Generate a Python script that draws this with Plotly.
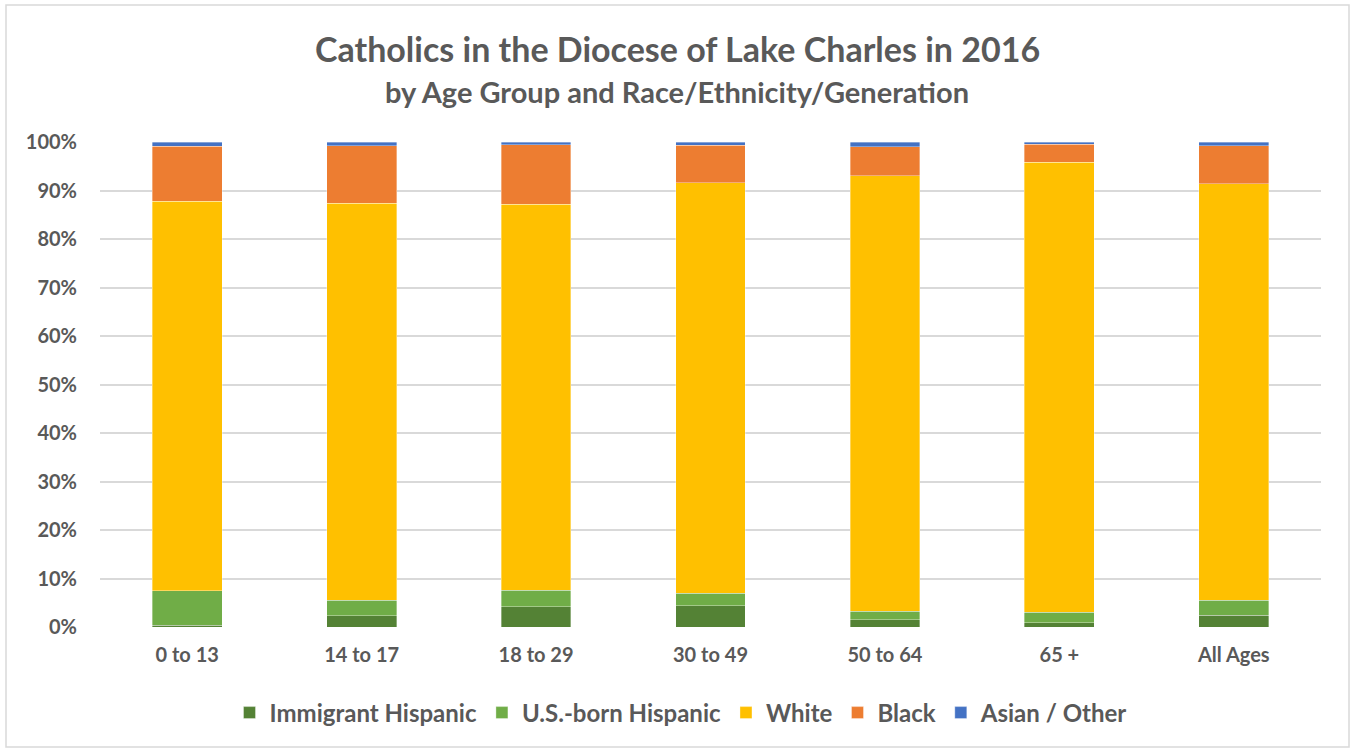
import plotly.graph_objects as go

categories = ["0 to 13", "14 to 17", "18 to 29", "30 to 49", "50 to 64", "65 +", "All Ages"]
immigrant_hispanic = [0.4, 2.3, 4.2, 4.4, 1.5, 0.9, 2.4]
us_born_hispanic = [7.1, 3.2, 3.4, 2.6, 1.7, 2.1, 3.1]
white = [80.3, 81.9, 79.6, 84.6, 89.8, 92.8, 85.9]
black = [11.3, 11.8, 12.2, 7.7, 6.0, 3.7, 7.8]
asian_other = [0.9, 0.8, 0.6, 0.7, 1.0, 0.5, 0.8]

series = [
    ("Immigrant Hispanic", immigrant_hispanic, "#548235"),
    ("U.S.-born Hispanic", us_born_hispanic, "#70AD47"),
    ("White", white, "#FFC000"),
    ("Black", black, "#ED7D31"),
    ("Asian / Other", asian_other, "#4472C4"),
]

FONT = "Lato"
GRAY = "#595959"

fig = go.Figure()
for name, vals, color in series:
    fig.add_trace(go.Bar(
        x=categories, y=[v / 100 for v in vals], name=name,
        marker=dict(color=color, line=dict(color="rgba(255,255,255,0.5)", width=0.7)),
    ))

W, H = 1351, 749
L, R, T, B = 100, 30, 142, 122
pw, ph = W - L - R, H - T - B

def px(x):
    return (x - L) / pw

def py(y):
    return (H - B - y) / ph

fig.update_layout(
    width=W, height=H,
    barmode="stack", bargap=0.6,
    paper_bgcolor="white", plot_bgcolor="white",
    margin=dict(l=L, r=R, t=T, b=B, pad=0),
    font=dict(family=FONT, color=GRAY),
    showlegend=True,
    legend=dict(orientation="h", x=px(681), xanchor="center", y=py(713), yanchor="middle",
                font=dict(family=FONT, size=24, color=GRAY, weight="bold"),
                traceorder="normal", itemwidth=30),
    xaxis=dict(showgrid=False, showline=False, ticks="", ticklabelstandoff=14,
               tickfont=dict(family=FONT, size=20, color=GRAY, weight="bold")),
    yaxis=dict(range=[0, 1], tickvals=[i / 10 for i in range(11)], tickformat=".0%",
               showgrid=True, gridcolor="#D9D9D9", gridwidth=1.5, zeroline=False,
               showline=False, ticks="", ticklabelstandoff=22,
               tickfont=dict(family=FONT, size=20, color=GRAY, weight="bold")),
    annotations=[
        dict(text="Catholics in the Diocese of Lake Charles in 2016", xref="paper", yref="paper",
             x=px(677), y=py(48), xanchor="center", yanchor="middle", showarrow=False,
             font=dict(family=FONT, size=34, color=GRAY, weight="bold")),
        dict(text="by Age Group and Race/Ethnicity/Generation", xref="paper", yref="paper",
             x=px(677), y=py(92), xanchor="center", yanchor="middle", showarrow=False,
             font=dict(family=FONT, size=29, color=GRAY, weight="bold")),
    ],
    shapes=[dict(type="rect", xref="paper", yref="paper", x0=px(6), x1=px(1349),
                 y0=py(747), y1=py(5), line=dict(color="#D9D9D9", width=1.5),
                 fillcolor="rgba(0,0,0,0)", layer="below")],
)

fig.write_html("out.html", config={"displayModeBar": False},
               post_script="document.body.style.margin='0px';")
